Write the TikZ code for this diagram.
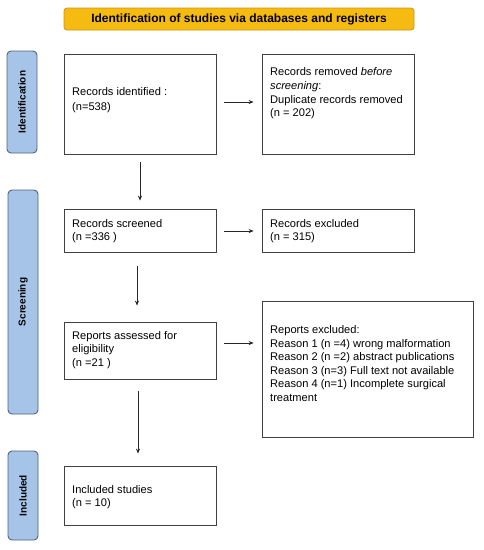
\documentclass[tikz,border=0pt]{standalone}
\usepackage{fontspec}
\setmainfont{Liberation Sans}
\usetikzlibrary{arrows.meta}
\definecolor{hdrfill}{HTML}{F6BB10}
\definecolor{hdrdraw}{HTML}{C9961A}
\definecolor{sidefill}{HTML}{A6C4E8}
\definecolor{sidedraw}{HTML}{4F6478}
\tikzset{
  box/.style={draw=black!75, line width=0.8pt, inner sep=0pt},
  txt/.style={anchor=west, align=left, inner sep=0pt, font=\fontsize{11.1}{13.6}\selectfont},
  side/.style={draw=sidedraw, fill=sidefill, line width=0.9pt, rounded corners=4pt, inner sep=0pt},
  sidetxt/.style={rotate=90, font=\bfseries\fontsize{10}{12}\selectfont},
  arr/.style={-{Stealth[length=5pt,width=4pt]}, line width=0.7pt, black!85}
}
\begin{document}
\begin{tikzpicture}[x=1pt,y=-1pt]
\useasboundingbox (0,0) rectangle (483,550);
% header
\node[draw=hdrdraw, fill=hdrfill, line width=0.8pt, rounded corners=3pt, minimum width=350pt, minimum height=22pt, inner sep=0pt, font=\bfseries\fontsize{12}{14}\selectfont] (hdr) at (239,19) {Identification of studies via databases and registers};
% side bars
\node[side, minimum width=30pt, minimum height=102pt] (sid) at (22,102) {};
\node[sidetxt] (sidt) at (sid.center) {Identification};
\node[side, minimum width=30pt, minimum height=224pt] (sscr) at (23,302) {};
\node[sidetxt] (sscrt) at (sscr.center) {Screening};
\node[side, minimum width=30pt, minimum height=89pt] (sinc) at (23,495.5) {};
\node[sidetxt] (sinct) at (sinc.center) {Included};
% boxes
\node[box, minimum width=152pt, minimum height=100pt] (ident) at (140,104) {};
\node[txt, font=\fontsize{11.1}{15}\selectfont] (identt) at (72,100) {Records identified :\\(n=538)};
\node[box, minimum width=152pt, minimum height=100pt] (remov) at (338,104) {};
\node[txt] (removt) at (270,93.5) {Records removed \textit{before}\\\textit{screening}:\\Duplicate records removed\\(n = 202)};
\node[box, minimum width=152pt, minimum height=43pt] (scr) at (140,230.5) {};
\node[txt] (scrt) at (72,231) {Records screened\\(n =336 )};
\node[box, minimum width=152pt, minimum height=43pt] (exc) at (338,230.5) {};
\node[txt] (exct) at (270,231) {Records excluded\\(n = 315)};
\node[box, minimum width=152pt, minimum height=57pt] (ass) at (140,350.5) {};
\node[txt] (asst) at (72,350) {Reports assessed for\\eligibility\\(n =21 )};
\node[box, minimum width=211pt, minimum height=136pt] (rexc) at (367.5,369) {};
\node[txt] (rexct) at (270,363.5) {Reports excluded:\\Reason 1 (n =4) wrong malformation\\Reason 2 (n =2) abstract publications\\Reason 3 (n=3) Full text not available\\Reason 4 (n=1) Incomplete surgical\\treatment};
\node[box, minimum width=152pt, minimum height=59pt] (inc) at (140,495.5) {};
\node[txt] (inct) at (72,497) {Included studies\\(n = 10)};
% arrows
\draw[arr] ([xshift=8pt]ident.east |- 0,102) -- ([xshift=-8pt]remov.west |- 0,102);
\draw[arr] ([xshift=8pt]scr.east |- 0,231) -- ([xshift=-8pt]exc.west |- 0,231);
\draw[arr] ([xshift=8pt]ass.east |- 0,343) -- ([xshift=-8pt]rexc.west |- 0,343);
\draw[arr] ([yshift=-8pt]ident.south) -- ([yshift=8pt]scr.north);
\draw[arr] ([xshift=-3pt,yshift=-14pt]scr.south) -- ([xshift=-3pt,yshift=16pt]ass.north);
\draw[arr] ([xshift=-2pt,yshift=-12pt]ass.south) -- ([xshift=-2pt,yshift=12pt]inc.north);
\end{tikzpicture}
\end{document}
